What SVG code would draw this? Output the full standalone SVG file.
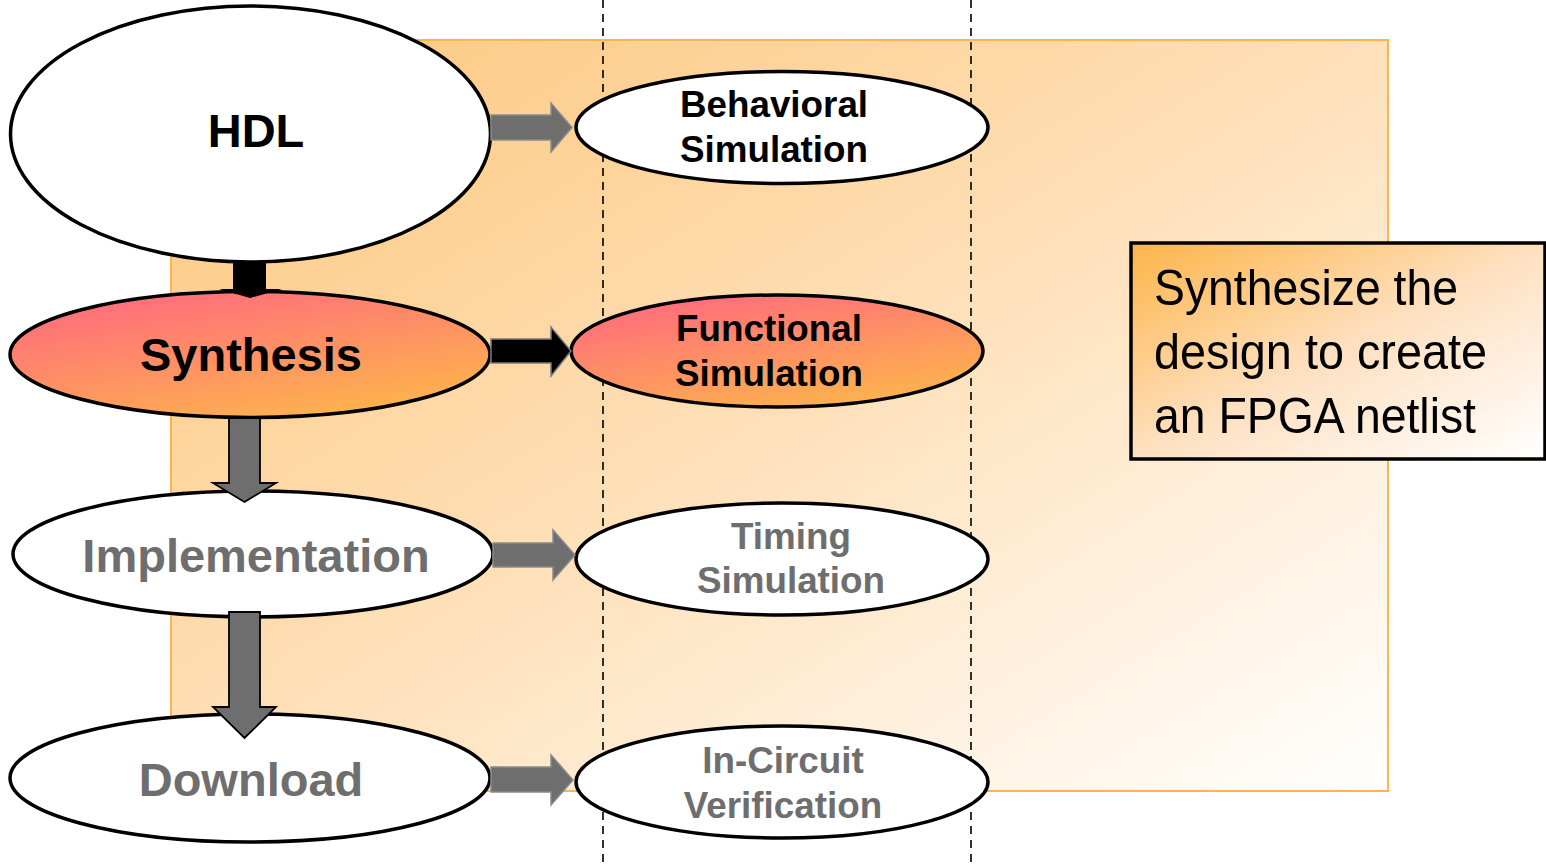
<svg xmlns="http://www.w3.org/2000/svg" width="1546" height="867" viewBox="0 0 1546 867">
<defs>
<linearGradient id="bgGrad" x1="0" y1="0" x2="1" y2="1">
<stop offset="0" stop-color="#FDC77C"/>
<stop offset="0.45" stop-color="#FEDDB2"/>
<stop offset="1" stop-color="#FFFFFF"/>
</linearGradient>
<linearGradient id="hotGrad" x1="0.2" y1="0" x2="0.8" y2="1">
<stop offset="0" stop-color="#FF6A7E"/>
<stop offset="1" stop-color="#FDB74A"/>
</linearGradient>
<linearGradient id="boxGrad" x1="0" y1="0" x2="1" y2="1">
<stop offset="0" stop-color="#FDB448"/>
<stop offset="0.5" stop-color="#FEE0C0"/>
<stop offset="1" stop-color="#FFFFFF"/>
</linearGradient>
<style>
.node{stroke:#000;stroke-width:3.5}
.plain{fill:#fff}
.hot{fill:url(#hotGrad)}
.big{font-family:"Liberation Sans",Arial,sans-serif;font-weight:bold;font-size:47px;text-anchor:middle}
.small{font-family:"Liberation Sans",Arial,sans-serif;font-weight:bold;font-size:36.8px;text-anchor:middle}
.dark{fill:#000}
.grey{fill:#6E6E6E}
.side{font-family:"Liberation Sans Narrow","Arial Narrow","Liberation Sans",sans-serif;font-size:50px;fill:#000}
.guide{stroke:#000;stroke-width:1.6;stroke-dasharray:8 6;fill:none}
.harr{fill:#6E6E6E;stroke:#8A8A8A;stroke-width:1.5}
.harrb{fill:#000;stroke:#7A7A7A;stroke-width:1.5}
.varr{fill:#6E6E6E;stroke:#000;stroke-width:1.8}
</style>
</defs>
<rect width="1546" height="867" fill="#fff"/>
<g id="background">
<rect x="171" y="40" width="1217" height="751" fill="url(#bgGrad)" stroke="#FBB450" stroke-width="2"/>
</g>
<g id="guides">
<line class="guide" x1="603" y1="0" x2="603" y2="867"/>
<line class="guide" x1="971" y1="0" x2="971" y2="867"/>
</g>
<g id="node-hdl">
<ellipse class="node plain" cx="250.5" cy="134" rx="240" ry="128"/>
<text class="big dark" x="256" y="147">HDL</text>
</g>
<g id="node-synthesis">
<ellipse class="node hot" cx="250" cy="354.5" rx="240" ry="63"/>
<text class="big dark" x="251" y="371">Synthesis</text>
</g>
<g id="node-implementation">
<ellipse class="node plain" cx="253" cy="554" rx="240" ry="63"/>
<text class="big grey" x="256" y="572">Implementation</text>
</g>
<g id="node-download">
<ellipse class="node plain" cx="250" cy="778" rx="240" ry="64"/>
<text class="big grey" x="251" y="796">Download</text>
</g>
<g id="node-behavioral">
<ellipse class="node plain" cx="782" cy="127.5" rx="206" ry="56"/>
<text class="small dark" x="774" y="117">Behavioral</text>
<text class="small dark" x="774" y="162">Simulation</text>
</g>
<g id="node-functional">
<ellipse class="node hot" cx="777" cy="351" rx="206" ry="56"/>
<text class="small dark" x="769" y="341">Functional</text>
<text class="small dark" x="769" y="386">Simulation</text>
</g>
<g id="node-timing">
<ellipse class="node plain" cx="782" cy="559" rx="206" ry="56"/>
<text class="small grey" x="791" y="549">Timing</text>
<text class="small grey" x="791" y="593">Simulation</text>
</g>
<g id="node-incircuit">
<ellipse class="node plain" cx="782" cy="782" rx="206" ry="56"/>
<text class="small grey" x="783" y="773">In-Circuit</text>
<text class="small grey" x="783" y="818">Verification</text>
</g>
<g id="connectors">
<polygon class="harr" points="491,115 551,115 551,103 572,127.5 551,152 551,140 491,140"/>
<polygon class="harrb" points="491,339 551,339 551,327 571,351 551,376 551,363 491,363"/>
<polygon class="harr" points="493,543 553,543 553,530 575,555 553,580 553,567 493,567"/>
<polygon class="harr" points="491,767 551,767 551,755 573,780 551,805 551,792 491,792"/>
<polygon fill="#000" points="233,262 266,262 266,289 282,289 250,298 219,289 233,289"/>
<polygon class="varr" points="229,418 260,418 260,483 276,483 244.5,502 213,483 229,483"/>
<polygon class="varr" points="229,612 260,612 260,707 276,707 244.5,738 213,707 229,707"/>
</g>
<g id="note">
<rect x="1131" y="243" width="414" height="216" fill="url(#boxGrad)" stroke="#000" stroke-width="3.5"/>
<text class="side" x="1154" y="305" textLength="304" lengthAdjust="spacingAndGlyphs">Synthesize the</text>
<text class="side" x="1154" y="369" textLength="333" lengthAdjust="spacingAndGlyphs">design to create</text>
<text class="side" x="1154" y="433" textLength="322" lengthAdjust="spacingAndGlyphs">an FPGA netlist</text>
</g>
</svg>
